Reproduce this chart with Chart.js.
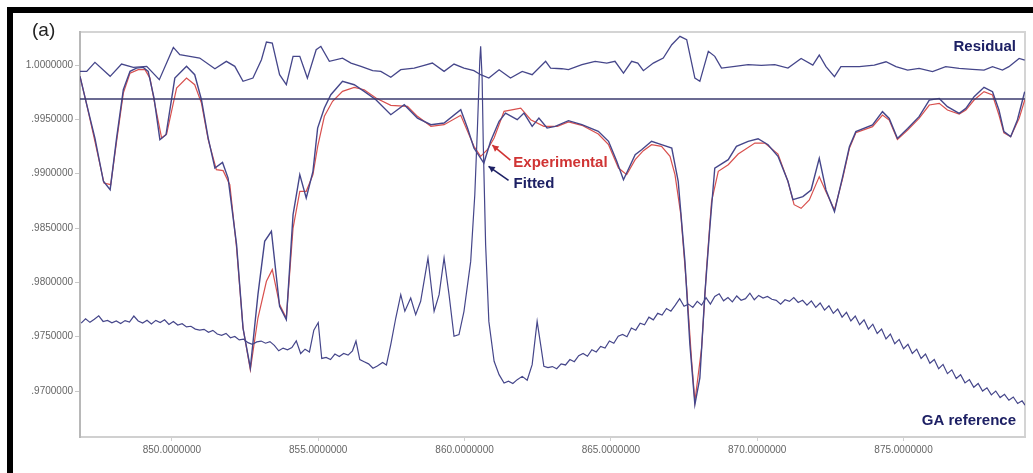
<!DOCTYPE html>
<html>
<head>
<meta charset="utf-8">
<script src="https://cdn.jsdelivr.net/npm/chart.js@4/dist/chart.umd.min.js"></script>
<style>
  html, body { margin: 0; padding: 0; background: #fff; }
  #wrap { width: 1033px; height: 473px; position: relative; }
</style>
</head>
<body>
<div id="wrap"><canvas id="c" width="1033" height="473"></canvas></div>
<script>
// Wavelength (nm) and normalised intensity of each trace
const wlFitted = [846.86,847.09,847.37,847.66,847.89,848.11,848.34,848.57,848.79,849.02,849.19,849.39,849.59,849.80,850.10,850.50,850.78,851.01,851.24,851.47,851.73,851.92,852.21,852.43,852.68,852.94,853.17,853.40,853.68,853.91,854.14,854.37,854.59,854.82,854.98,855.21,855.43,855.83,856.23,856.57,856.97,857.48,857.94,858.39,858.85,859.30,859.87,860.10,860.32,860.66,860.89,861.18,861.40,861.80,862.03,862.31,862.54,862.82,863.10,863.55,864.01,864.57,864.92,865.20,865.43,865.83,866.05,866.39,866.73,867.08,867.30,867.53,867.70,867.87,868.04,868.21,868.38,868.55,869.01,869.29,869.69,870.03,870.37,870.71,871.05,871.22,871.56,871.84,872.12,872.35,872.64,872.92,873.15,873.37,873.94,874.28,874.51,874.79,875.14,875.53,875.88,876.22,876.50,876.90,877.13,877.41,877.75,878.04,878.26,878.43,878.66,878.89,879.14];
const fitted = [0.99896,0.99635,0.99328,0.98930,0.98853,0.99328,0.99773,0.99942,0.99972,0.99978,0.99942,0.99696,0.99313,0.99359,0.99880,0.99988,0.99911,0.99681,0.99328,0.99052,0.99104,0.98960,0.98347,0.97580,0.97212,0.97887,0.98378,0.98470,0.97780,0.97657,0.98623,0.98991,0.98776,0.99022,0.99420,0.99604,0.99727,0.99850,0.99819,0.99758,0.99681,0.99543,0.99635,0.99512,0.99451,0.99466,0.99589,0.99420,0.99236,0.99098,0.99298,0.99482,0.99558,0.99497,0.99558,0.99436,0.99512,0.99420,0.99436,0.99488,0.99451,0.99390,0.99298,0.99114,0.98945,0.99175,0.99221,0.99298,0.99267,0.99236,0.98930,0.98193,0.97427,0.96875,0.97120,0.97887,0.98500,0.99052,0.99129,0.99252,0.99298,0.99322,0.99267,0.99160,0.98930,0.98761,0.98789,0.98850,0.99141,0.98850,0.98651,0.98973,0.99248,0.99387,0.99448,0.99571,0.99509,0.99325,0.99417,0.99525,0.99678,0.99693,0.99617,0.99555,0.99601,0.99709,0.99795,0.99755,0.99586,0.99387,0.99341,0.99494,0.99755];

const wlExperimental = [846.86,847.09,847.37,847.68,847.91,848.11,848.34,848.57,848.85,849.08,849.25,849.42,849.65,849.82,850.16,850.50,850.78,851.01,851.24,851.52,851.75,851.98,852.21,852.43,852.68,852.94,853.23,853.43,853.68,853.91,854.14,854.37,854.59,854.82,854.98,855.21,855.49,855.83,856.23,856.57,856.97,857.48,858.05,858.39,858.85,859.30,859.87,860.32,860.55,860.78,861.01,861.35,861.92,862.26,862.71,863.17,863.55,864.01,864.57,864.92,865.26,865.54,865.83,866.11,866.39,866.73,867.02,867.19,867.39,867.59,867.76,867.87,868.10,868.27,868.44,868.67,869.01,869.35,869.92,870.26,870.71,871.05,871.26,871.50,871.78,872.12,872.35,872.64,872.92,873.15,873.37,873.94,874.28,874.51,874.79,875.14,875.53,875.88,876.22,876.50,876.90,877.13,877.41,877.75,878.04,878.26,878.43,878.66,878.95,879.14];
const experimental = [0.99896,0.99635,0.99298,0.98914,0.98899,0.99298,0.99742,0.99926,0.99957,0.99957,0.99880,0.99635,0.99328,0.99365,0.99788,0.99880,0.99819,0.99650,0.99313,0.99037,0.99028,0.98899,0.98316,0.97580,0.97197,0.97672,0.98010,0.98117,0.97795,0.97672,0.98500,0.98838,0.98838,0.98991,0.99250,0.99528,0.99666,0.99758,0.99794,0.99773,0.99696,0.99629,0.99620,0.99528,0.99436,0.99451,0.99537,0.99252,0.99160,0.99221,0.99328,0.99574,0.99604,0.99497,0.99436,0.99436,0.99476,0.99445,0.99365,0.99267,0.99052,0.98991,0.99129,0.99212,0.99267,0.99252,0.99160,0.98991,0.98623,0.97948,0.97274,0.96905,0.97396,0.98132,0.98746,0.99022,0.99083,0.99181,0.99282,0.99282,0.99181,0.98930,0.98715,0.98681,0.98758,0.98973,0.98834,0.98666,0.98957,0.99233,0.99377,0.99433,0.99540,0.99494,0.99316,0.99402,0.99509,0.99632,0.99647,0.99586,0.99549,0.99586,0.99678,0.99755,0.99724,0.99540,0.99377,0.99341,0.99509,0.99678];

const wlResidual = [846.86,847.09,847.37,847.89,848.28,848.68,849.14,849.57,850.05,850.27,850.61,850.95,851.47,851.86,852.15,852.43,852.77,853.06,853.23,853.43,853.68,853.91,854.14,854.37,854.63,854.93,855.09,855.38,855.83,856.12,856.46,856.86,857.14,857.48,857.82,858.28,858.62,858.90,859.30,859.64,859.98,860.32,860.55,860.83,861.18,861.57,861.97,862.31,862.77,862.94,863.32,863.55,864.01,864.46,864.86,865.14,865.43,865.71,865.92,866.11,866.45,866.79,867.08,867.36,867.59,867.87,868.04,868.33,868.55,868.78,869.24,869.69,870.14,870.60,871.05,871.50,871.90,872.12,872.35,872.64,872.86,873.49,874.00,874.40,874.74,875.14,875.53,875.99,876.44,876.90,877.35,877.75,878.04,878.38,878.60,878.95,879.14];
const residual = [0.99942,0.99942,1.00025,0.99896,1.00009,0.99978,0.99988,0.99865,1.00162,1.00095,1.00080,1.00064,0.99966,1.00034,0.99988,0.99850,0.99880,1.00049,1.00212,1.00202,0.99911,0.99819,1.00080,1.00080,0.99880,1.00141,1.00172,1.00034,1.00064,1.00018,0.99988,0.99948,0.99942,0.99887,0.99957,0.99972,0.99997,1.00018,0.99942,1.00009,0.99972,0.99948,0.99911,0.99880,0.99957,0.99880,0.99942,0.99911,1.00034,0.99972,0.99966,0.99957,1.00003,1.00034,1.00018,1.00034,0.99926,1.00034,1.00018,0.99948,1.00018,1.00064,1.00187,1.00264,1.00233,0.99880,0.99850,1.00126,1.00080,0.99972,0.99988,1.00003,0.99997,1.00003,0.99972,1.00061,1.00000,1.00092,0.99985,0.99893,0.99985,0.99985,1.00000,1.00030,0.99985,0.99954,0.99969,0.99939,0.99985,0.99969,0.99960,0.99954,0.99985,0.99954,0.99985,1.00061,1.00046];

const wlGA = [846.90,847.05,847.20,847.35,847.50,847.65,847.80,847.95,848.10,848.25,848.40,848.55,848.70,848.85,849.00,849.15,849.30,849.45,849.60,849.75,849.90,850.05,850.20,850.35,850.50,850.65,850.80,850.95,851.10,851.25,851.40,851.55,851.70,851.85,852.00,852.15,852.30,852.45,852.60,852.75,852.90,853.05,853.20,853.35,853.50,853.65,853.80,853.95,854.10,854.25,854.40,854.55,854.70,854.85,855.00,855.12,855.27,855.42,855.57,855.72,855.87,856.02,856.17,856.29,856.42,856.57,856.72,856.87,857.02,857.20,857.33,857.48,857.65,857.82,857.96,858.16,858.33,858.50,858.75,858.96,859.13,859.30,859.47,859.64,859.81,859.98,860.21,860.35,860.44,860.52,860.55,860.60,860.64,860.72,860.83,861.01,861.18,861.35,861.50,861.65,861.80,861.97,862.14,862.31,862.48,862.60,862.71,862.85,863.00,863.15,863.30,863.45,863.60,863.75,863.90,864.05,864.20,864.35,864.50,864.65,864.80,864.95,865.10,865.25,865.40,865.55,865.70,865.85,866.00,866.15,866.30,866.45,866.60,866.75,866.90,867.05,867.20,867.35,867.50,867.65,867.80,867.95,868.10,868.25,868.40,868.55,868.70,868.85,869.00,869.15,869.30,869.45,869.60,869.75,869.90,870.05,870.20,870.35,870.50,870.65,870.80,870.95,871.10,871.25,871.40,871.55,871.70,871.85,872.00,872.15,872.30,872.45,872.60,872.75,872.90,873.05,873.20,873.35,873.50,873.65,873.80,873.95,874.10,874.25,874.40,874.55,874.70,874.85,875.00,875.15,875.30,875.45,875.60,875.75,875.90,876.05,876.20,876.35,876.50,876.65,876.80,876.95,877.10,877.25,877.40,877.55,877.70,877.85,878.00,878.15,878.30,878.45,878.60,878.75,878.90,879.05,879.15];
const gaReference = [0.97625,0.97665,0.97632,0.97660,0.97692,0.97640,0.97650,0.97628,0.97645,0.97622,0.97648,0.97635,0.97690,0.97645,0.97625,0.97652,0.97618,0.97650,0.97630,0.97655,0.97612,0.97640,0.97608,0.97620,0.97590,0.97596,0.97570,0.97560,0.97568,0.97540,0.97558,0.97525,0.97512,0.97530,0.97490,0.97502,0.97470,0.97478,0.97445,0.97430,0.97452,0.97460,0.97440,0.97455,0.97420,0.97370,0.97395,0.97380,0.97400,0.97462,0.97345,0.97385,0.97360,0.97560,0.97630,0.97300,0.97310,0.97290,0.97340,0.97318,0.97345,0.97330,0.97370,0.97460,0.97290,0.97270,0.97250,0.97210,0.97230,0.97262,0.97240,0.97430,0.97672,0.97887,0.97734,0.97856,0.97703,0.97826,0.98224,0.97734,0.97887,0.98224,0.97887,0.97504,0.97519,0.97734,0.98193,0.98807,0.99420,1.00034,1.00172,0.99880,0.99267,0.98347,0.97641,0.97274,0.97151,0.97074,0.97090,0.97070,0.97105,0.97135,0.97100,0.97243,0.97641,0.97427,0.97228,0.97215,0.97225,0.97205,0.97250,0.97240,0.97290,0.97270,0.97325,0.97345,0.97320,0.97380,0.97360,0.97410,0.97395,0.97460,0.97440,0.97505,0.97520,0.97500,0.97580,0.97560,0.97625,0.97610,0.97680,0.97655,0.97715,0.97700,0.97760,0.97735,0.97790,0.97850,0.97780,0.97800,0.97770,0.97825,0.97790,0.97860,0.97800,0.97870,0.97895,0.97830,0.97860,0.97820,0.97875,0.97835,0.97850,0.97900,0.97840,0.97880,0.97855,0.97870,0.97845,0.97835,0.97800,0.97840,0.97825,0.97860,0.97815,0.97835,0.97790,0.97830,0.97770,0.97810,0.97745,0.97785,0.97715,0.97755,0.97680,0.97725,0.97645,0.97690,0.97610,0.97655,0.97570,0.97615,0.97530,0.97570,0.97480,0.97525,0.97435,0.97475,0.97390,0.97430,0.97345,0.97385,0.97300,0.97340,0.97255,0.97290,0.97205,0.97245,0.97160,0.97195,0.97115,0.97150,0.97075,0.97105,0.97035,0.97070,0.97000,0.97030,0.96965,0.97000,0.96940,0.96970,0.96915,0.96945,0.96885,0.96910,0.96870];

// Continuum level drawn as a flat line across the plot
const continuumLevel = 0.99687;

const xTicks = [850, 855, 860, 865, 870, 875];
const xTickLabels = ['850.0000000', '855.0000000', '860.0000000', '865.0000000', '870.0000000', '875.0000000'];
const yTicks = [0.970, 0.975, 0.980, 0.985, 0.990, 0.995, 1.000];
const yTickLabels = ['.9700000', '.9750000', '.9800000', '.9850000', '.9900000', '.9950000', '1.0000000'];

const X_MIN = 846.86, X_MAX = 879.15;
const Y_MIN = 0.96577, Y_MAX = 1.00304;

const NAVY = '#45468a';
const RED = '#d8504e';

function pts(xs, ys) { return xs.map((x, i) => ({ x: x, y: ys[i] })); }

const frame = {
  id: 'frame',
  beforeDraw(chart) {
    const ctx = chart.ctx;
    ctx.save();
    ctx.fillStyle = '#fff';
    ctx.fillRect(0, 0, chart.width, chart.height);
    ctx.fillStyle = '#000';
    ctx.fillRect(7, 7, chart.width - 7, 6);
    ctx.fillRect(7, 7, 6, chart.height - 7);
    const a = chart.chartArea;
    ctx.strokeStyle = '#d4d4d4';
    ctx.lineWidth = 2;
    ctx.beginPath();
    ctx.moveTo(a.left, a.top);
    ctx.lineTo(a.right, a.top);
    ctx.lineTo(a.right, a.bottom);
    ctx.stroke();
    ctx.fillStyle = '#222';
    ctx.font = '19px "Liberation Sans", Arial, sans-serif';
    ctx.textBaseline = 'middle';
    ctx.textAlign = 'left';
    ctx.fillText('(a)', 32, 31);
    ctx.restore();
  },
  afterDraw(chart) {
    const ctx = chart.ctx;
    const xs = chart.scales.x, ys = chart.scales.y;
    const a = chart.chartArea;
    ctx.save();
    ctx.font = 'bold 15px "Liberation Sans", Arial, sans-serif';
    ctx.textBaseline = 'middle';
    ctx.fillStyle = '#1d2064';
    ctx.textAlign = 'right';
    ctx.fillText('Residual', a.right - 9, a.top + 15);
    ctx.fillText('GA reference', a.right - 9, a.bottom - 16);

    function arrow(x1, y1, x2, y2, color) {
      ctx.strokeStyle = color;
      ctx.fillStyle = color;
      ctx.lineWidth = 1.6;
      ctx.beginPath();
      ctx.moveTo(x1, y1);
      ctx.lineTo(x2, y2);
      ctx.stroke();
      const ang = Math.atan2(y2 - y1, x2 - x1);
      const L = 7, W = 0.5;
      ctx.beginPath();
      ctx.moveTo(x2, y2);
      ctx.lineTo(x2 - L * Math.cos(ang - W), y2 - L * Math.sin(ang - W));
      ctx.lineTo(x2 - L * Math.cos(ang + W), y2 - L * Math.sin(ang + W));
      ctx.closePath();
      ctx.fill();
    }
    // Labels pointing at the two traces near the 860.7 nm line
    const expTip = { x: xs.getPixelForValue(860.95), y: ys.getPixelForValue(0.99262) };
    const fitTip = { x: xs.getPixelForValue(860.82), y: ys.getPixelForValue(0.99068) };
    arrow(expTip.x + 18, expTip.y + 15, expTip.x, expTip.y, '#d03434');
    arrow(fitTip.x + 20, fitTip.y + 14, fitTip.x, fitTip.y, '#1d2064');
    ctx.textAlign = 'left';
    ctx.fillStyle = '#d03434';
    ctx.fillText('Experimental', expTip.x + 21, expTip.y + 18);
    ctx.fillStyle = '#1d2064';
    ctx.fillText('Fitted', fitTip.x + 25, fitTip.y + 18);
    ctx.restore();
  }
};

new Chart(document.getElementById('c'), {
  type: 'line',
  data: {
    datasets: [
      { label: 'GA reference', data: pts(wlGA, gaReference), borderColor: NAVY, borderWidth: 1.2 },
      { label: 'Residual', data: pts(wlResidual, residual), borderColor: NAVY, borderWidth: 1.3 },
      { label: 'Continuum', data: [{ x: X_MIN, y: continuumLevel }, { x: X_MAX, y: continuumLevel }], borderColor: '#3a3a6e', borderWidth: 1.5 },
      { label: 'Fitted', data: pts(wlFitted, fitted), borderColor: NAVY, borderWidth: 1.4 },
      { label: 'Experimental', data: pts(wlExperimental, experimental), borderColor: RED, borderWidth: 1.2 }
    ]
  },
  options: {
    responsive: false,
    animation: false,
    parsing: true,
    elements: { point: { radius: 0 }, line: { tension: 0 } },
    layout: { padding: { top: 32, right: 8, left: 0, bottom: 0 } },
    plugins: { legend: { display: false }, tooltip: { enabled: false } },
    scales: {
      x: {
        type: 'linear',
        min: X_MIN,
        max: X_MAX,
        afterFit(s) { s.height = 36; },
        afterBuildTicks(s) { s.ticks = xTicks.map(v => ({ value: v })); },
        ticks: {
          autoSkip: false,
          maxRotation: 0,
          padding: 3,
          color: '#666',
          font: { family: '"Liberation Sans", Arial, sans-serif', size: 10 },
          callback(v) { const i = xTicks.indexOf(v); return i >= 0 ? xTickLabels[i] : ''; }
        },
        grid: { drawOnChartArea: false, tickLength: 4, color: '#d0d0d0' },
        border: { color: '#d0d0d0', width: 2 }
      },
      y: {
        type: 'linear',
        min: Y_MIN,
        max: Y_MAX,
        afterFit(s) { s.width = 80; },
        afterBuildTicks(s) { s.ticks = yTicks.map(v => ({ value: v })); },
        ticks: {
          autoSkip: false,
          padding: 2,
          color: '#666',
          font: { family: '"Liberation Sans", Arial, sans-serif', size: 10 },
          callback(v) { const i = yTicks.findIndex(t => Math.abs(t - v) < 1e-9); return i >= 0 ? yTickLabels[i] : ''; }
        },
        grid: { drawOnChartArea: false, tickLength: 5, color: '#c8c8c8' },
        border: { color: '#b8b8b8', width: 2 }
      }
    }
  },
  plugins: [frame]
});
</script>
</body>
</html>
